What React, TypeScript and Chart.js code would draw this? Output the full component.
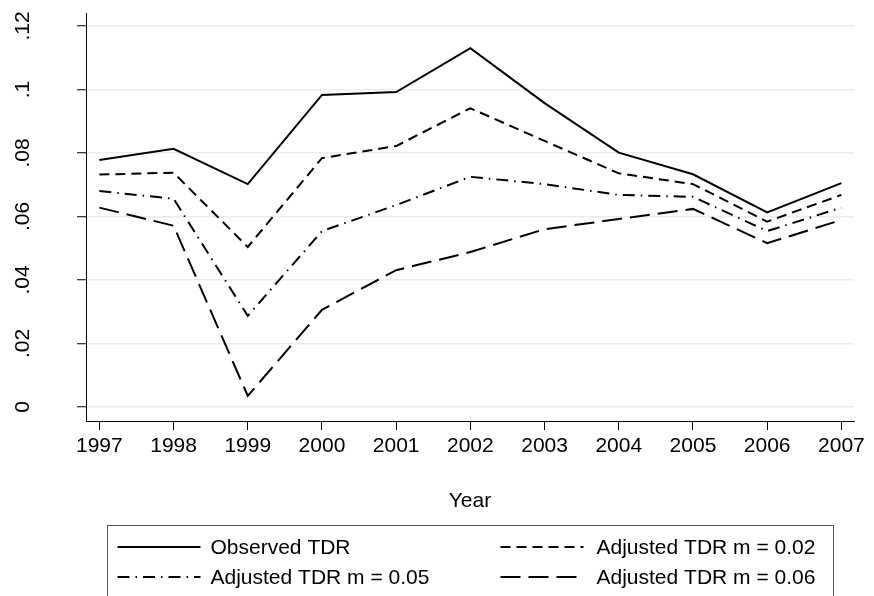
import React, { useEffect, useRef } from 'react';
import { Chart, registerables } from 'chart.js';

Chart.register(...registerables);

const years = [1997, 1998, 1999, 2000, 2001, 2002, 2003, 2004, 2005, 2006, 2007];
const observedTDR = [0.0778, 0.0813, 0.0702, 0.0983, 0.0992, 0.113, 0.0957, 0.0801, 0.0733, 0.0613, 0.0705];
const adjusted002 = [0.0732, 0.0738, 0.0504, 0.0784, 0.0822, 0.0941, 0.0838, 0.0736, 0.0702, 0.0584, 0.0668];
const adjusted005 = [0.068, 0.0656, 0.0287, 0.0554, 0.0636, 0.0725, 0.0702, 0.0668, 0.0662, 0.0554, 0.0628];
const adjusted006 = [0.0628, 0.0571, 0.0035, 0.0306, 0.0431, 0.0488, 0.056, 0.0592, 0.0624, 0.0516, 0.0589];
const yTickValues = [0, 0.02, 0.04, 0.06, 0.08, 0.1, 0.12];
const seriesLabels = [
  'Observed TDR',
  'Adjusted TDR m = 0.02',
  'Adjusted TDR m = 0.05',
  'Adjusted TDR m = 0.06',
];
const xTitle = 'Year';

const FONT = '"Liberation Sans", Arial, Helvetica, sans-serif';

const stataLegend = {
  id: 'stataLegend',
  afterDraw(chart: any) {
    const ctx = chart.ctx as CanvasRenderingContext2D;
    const area = chart.chartArea;
    const mid = (area.left + area.right) / 2;
    const boxW = 726;
    const boxL = Math.round(mid - boxW / 2) + 0.5;
    const boxT = 525.5;
    ctx.save();
    ctx.setLineDash([]);
    ctx.strokeStyle = '#555';
    ctx.lineWidth = 1;
    ctx.strokeRect(boxL, boxT, boxW, 80);
    const cols = [
      { lx: boxL + 10, tx: boxL + 103 },
      { lx: boxL + 393, tx: boxL + 489 },
    ];
    const rows = [547, 577];
    chart.data.datasets.forEach((ds: any, i: number) => {
      const c = cols[i % 2];
      const r = rows[Math.floor(i / 2)];
      ctx.setLineDash(ds.borderDash || []);
      ctx.strokeStyle = '#000';
      ctx.lineWidth = 2;
      ctx.beginPath();
      ctx.moveTo(c.lx, r);
      ctx.lineTo(c.lx + 83, r);
      ctx.stroke();
      ctx.setLineDash([]);
      ctx.fillStyle = '#000';
      ctx.font = `21px ${FONT}`;
      ctx.textBaseline = 'middle';
      ctx.textAlign = 'left';
      ctx.fillText(ds.label, c.tx, r + 1);
    });
    ctx.restore();
  },
};

export default function App() {
  const canvasRef = useRef<HTMLCanvasElement | null>(null);

  useEffect(() => {
    if (!canvasRef.current) return;
    const toPts = (arr: number[]) => years.map((x, i) => ({ x, y: arr[i] }));
    const dashes = [[], [10, 6], [12, 6, 1.5, 6], [20, 8]];
    const series = [observedTDR, adjusted002, adjusted005, adjusted006];
    const chart = new Chart(canvasRef.current, {
      type: 'line',
      data: {
        datasets: series.map((s, i) => ({
          label: seriesLabels[i],
          data: toPts(s),
          borderColor: '#000',
          backgroundColor: '#000',
          borderWidth: 2,
          borderDash: dashes[i],
          pointRadius: 0,
          tension: 0,
          fill: false,
        })),
      },
      options: {
        responsive: true,
        maintainAspectRatio: false,
        animation: false,
        font: { family: FONT },
        layout: { padding: { top: 13, right: 20, bottom: 0, left: 0 } },
        plugins: {
          legend: { display: false },
          tooltip: { enabled: false },
        },
        scales: {
          x: {
            type: 'linear',
            min: 1996.82,
            max: 2007.17,
            afterBuildTicks: (s: any) => {
              s.ticks = years.map((v) => ({ value: v }));
            },
            afterFit: (s: any) => {
              s.height = 175;
            },
            ticks: {
              autoSkip: false,
              maxRotation: 0,
              minRotation: 0,
              padding: 4,
              color: '#000',
              font: { family: FONT, size: 21 },
              callback: (v: any) => String(v),
            },
            grid: {
              drawOnChartArea: false,
              drawTicks: true,
              tickLength: 9,
              tickColor: '#000',
              tickWidth: 1,
            },
            border: { display: true, color: '#000', width: 1 },
            title: {
              display: true,
              text: xTitle,
              color: '#000',
              font: { family: FONT, size: 21 },
              padding: { top: 0, bottom: 82 },
            },
          },
          y: {
            type: 'linear',
            min: -0.00441,
            max: 0.1241,
            afterBuildTicks: (s: any) => {
              s.ticks = yTickValues.map((v) => ({ value: v }));
            },
            afterFit: (s: any) => {
              s.width = 86;
              s.paddingTop = 0;
              s.paddingBottom = 0;
            },
            ticks: {
              minRotation: 90,
              maxRotation: 90,
              crossAlign: 'center',
              padding: 39,
              color: '#000',
              font: { family: FONT, size: 21 },
              callback: (v: any) =>
                v === 0 ? '0' : String(+Number(v).toFixed(2)).replace(/^0/, ''),
            },
            grid: {
              color: '#E6EEF1',
              lineWidth: 1.5,
              drawTicks: true,
              tickLength: 9,
              tickColor: '#000',
              tickWidth: 1,
            },
            border: { display: true, color: '#000', width: 1 },
          },
        },
      } as any,
      plugins: [stataLegend],
    });
    return () => chart.destroy();
  }, []);

  return (
    <div
      style={{
        position: 'absolute',
        left: 0,
        top: 0,
        width: 874,
        height: 596,
        background: '#fff',
      }}
    >
      <canvas ref={canvasRef} />
    </div>
  );
}
